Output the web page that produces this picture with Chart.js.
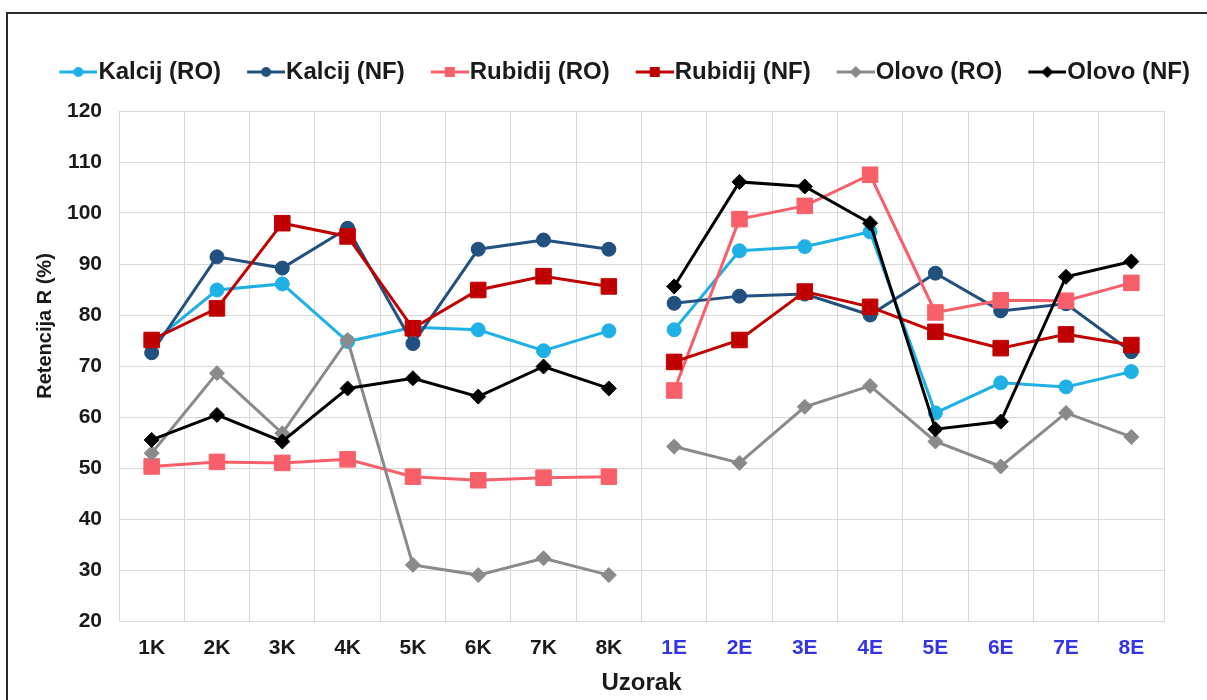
<!DOCTYPE html>
<html>
<head>
<meta charset="utf-8">
<script src="https://cdn.jsdelivr.net/npm/chart.js@4.4.1/dist/chart.umd.min.js"></script>
<style>
  html, body { margin: 0; padding: 0; background: #fff; }
  #wrap { width: 1207px; height: 700px; position: relative; }
</style>
</head>
<body>
<div id="wrap"><canvas id="c" width="1207" height="700"></canvas></div>
<script>
// ---------- data ----------
const categories = ['1K','2K','3K','4K','5K','6K','7K','8K','1E','2E','3E','4E','5E','6E','7E','8E'];
const seriesNames = ['Kalcij (RO)','Kalcij (NF)','Rubidij (RO)','Rubidij (NF)','Olovo (RO)','Olovo (NF)'];
const kalcijRO  = [74.5, 84.9, 86.1, 74.8, 77.6, 77.1, 73.0, 76.9, 77.1, 92.6, 93.4, 96.3, 60.8, 66.7, 65.9, 68.9];
const kalcijNF  = [72.6, 91.4, 89.2, 97.0, 74.4, 92.9, 94.7, 92.9, 82.3, 83.7, 84.1, 80.0, 88.2, 80.8, 82.2, 72.8];
const rubidijRO = [50.3, 51.2, 51.0, 51.7, 48.3, 47.6, 48.1, 48.3, 65.2, 98.8, 101.4, 107.5, 80.5, 82.9, 82.8, 86.3];
const rubidijNF = [75.1, 81.3, 98.0, 95.4, 77.4, 84.9, 87.6, 85.6, 70.8, 75.1, 84.6, 81.6, 76.7, 73.5, 76.2, 74.1];
const olovoRO   = [52.9, 68.6, 56.8, 75.1, 31.0, 29.0, 32.3, 29.0, 54.2, 51.0, 62.0, 66.1, 55.2, 50.3, 60.8, 56.1];
const olovoNF   = [55.5, 60.4, 55.2, 65.6, 67.6, 64.0, 69.9, 65.6, 85.6, 106.1, 105.2, 98.0, 57.6, 59.1, 87.5, 90.5];
const yMin = 20, yMax = 120, yStep = 10;
const xTitle = 'Uzorak';
const yTitle = 'Retencija R (%)';
const gapAfterCategory = '8K';

// ---------- styles ----------
const FONT = '"Liberation Sans", Arial, Helvetica, sans-serif';
const seriesValues = [kalcijRO, kalcijNF, rubidijRO, rubidijNF, olovoRO, olovoNF];
const seriesColors = ['#1FB0E6', '#22507F', '#F7606A', '#C00000', '#8A8A8A', '#000000'];
const seriesMarkers = ['circle', 'circle', 'rect', 'rect', 'rectRot', 'rectRot'];
const markerRadius = { circle: 7, rect: 11, rectRot: 7.5 };
const gapIndex = categories.indexOf(gapAfterCategory);

// legend icon: line with marker, drawn on the right part of a wider transparent canvas
function legendIcon(color, marker) {
  const W = 58, H = 16, L = 38, x0 = W - L, cx = x0 + L / 2, cy = H / 2;
  const c = document.createElement('canvas');
  c.width = W; c.height = H;
  const g = c.getContext('2d');
  g.strokeStyle = color; g.lineWidth = 3;
  g.beginPath(); g.moveTo(x0, cy); g.lineTo(W, cy); g.stroke();
  g.fillStyle = color;
  g.beginPath();
  if (marker === 'circle') { g.arc(cx, cy, 5, 0, Math.PI * 2); }
  else if (marker === 'rect') { g.rect(cx - 5, cy - 5, 10, 10); }
  else { g.moveTo(cx, cy - 6); g.lineTo(cx + 6, cy); g.lineTo(cx, cy + 6); g.lineTo(cx - 6, cy); g.closePath(); }
  g.fill();
  return c;
}
const legendIcons = seriesColors.map((col, i) => legendIcon(col, seriesMarkers[i]));

const datasets = seriesNames.map((name, i) => ({
  label: name,
  data: seriesValues[i],
  borderColor: seriesColors[i],
  backgroundColor: seriesColors[i],
  pointBackgroundColor: seriesColors[i],
  pointBorderColor: seriesColors[i],
  pointStyle: seriesMarkers[i],
  pointRadius: markerRadius[seriesMarkers[i]],
  pointBorderWidth: 1,
  borderWidth: 3,
  tension: 0,
  fill: false,
  order: seriesNames.length - i,
  segment: {
    borderColor: ctx => ctx.p0DataIndex === gapIndex ? 'rgba(0,0,0,0)' : undefined
  }
}));

const framePlugin = {
  id: 'frame',
  beforeDraw(chart) {
    const ctx = chart.ctx;
    ctx.save();
    ctx.fillStyle = '#ffffff';
    ctx.fillRect(0, 0, chart.width, chart.height);
    ctx.strokeStyle = '#2b2b2b';
    ctx.lineWidth = 2;
    ctx.strokeRect(7, 13, chart.width + 40, chart.height + 40);
    ctx.restore();
  }
};

const yTitlePlugin = {
  id: 'yTitle',
  afterDraw(chart) {
    const ctx = chart.ctx;
    ctx.save();
    ctx.translate(45, 326);
    ctx.rotate(-Math.PI / 2);
    ctx.font = 'bold 20px ' + FONT;
    ctx.fillStyle = '#1a1a1a';
    ctx.textAlign = 'center';
    ctx.textBaseline = 'middle';
    ctx.fillText(yTitle, 0, 0);
    ctx.restore();
  }
};

new Chart(document.getElementById('c'), {
  type: 'line',
  data: { labels: categories, datasets },
  options: {
    responsive: false,
    animation: false,
    devicePixelRatio: 1,
    layout: { padding: { top: 43, left: 0, right: 0, bottom: 0 } },
    plugins: {
      tooltip: { enabled: false },
      legend: {
        position: 'top',
        align: 'end',
        labels: {
          usePointStyle: true,
          pointStyleWidth: 36,
          padding: 17,
          color: '#1a1a1a',
          font: { family: FONT, size: 24, weight: 'bold' },
          generateLabels: chart => chart.data.datasets.map((ds, i) => ({
            text: ds.label,
            pointStyle: legendIcons[i],
            fillStyle: ds.borderColor,
            strokeStyle: ds.borderColor,
            lineWidth: 0,
            hidden: false,
            datasetIndex: i,
            fontColor: '#1a1a1a'
          }))
        }
      },
      // empty spacer between legend and plot area
      subtitle: {
        display: true,
        text: '',
        position: 'top',
        weight: 500,
        font: { size: 1, lineHeight: 1 },
        padding: { top: 16, bottom: 0 }
      },
      // empty spacer on the right of the plot area
      title: {
        display: true,
        text: '',
        position: 'right',
        font: { size: 1, lineHeight: 1 },
        padding: { top: 21, bottom: 21 }
      }
    },
    scales: {
      x: {
        offset: true,
        grid: { offset: true, color: '#d9d9d9', lineWidth: 1, drawTicks: false },
        border: { display: true, color: '#d9d9d9', width: 1 },
        ticks: {
          padding: 15,
          maxRotation: 0,
          autoSkip: false,
          font: { family: FONT, size: 21, weight: 'bold' },
          color: ctx => (categories[ctx.index] || '').endsWith('E') ? '#3434E6' : '#1a1a1a'
        },
        title: {
          display: true,
          text: xTitle,
          color: '#1a1a1a',
          font: { family: FONT, size: 24, weight: 'bold' },
          padding: { top: 2, bottom: 2 }
        },
        afterFit: scale => { scale.height = 79; }
      },
      y: {
        min: yMin,
        max: yMax,
        ticks: {
          stepSize: yStep,
          padding: 17,
          color: '#1a1a1a',
          font: { family: FONT, size: 21, weight: 'bold' }
        },
        grid: { color: '#d9d9d9', lineWidth: 1, drawTicks: false },
        border: { display: true, color: '#d9d9d9', width: 1 },
        title: { display: false, text: yTitle },
        afterFit: scale => { scale.width = 119; }
      }
    }
  },
  plugins: [framePlugin, yTitlePlugin]
});
</script>
</body>
</html>
